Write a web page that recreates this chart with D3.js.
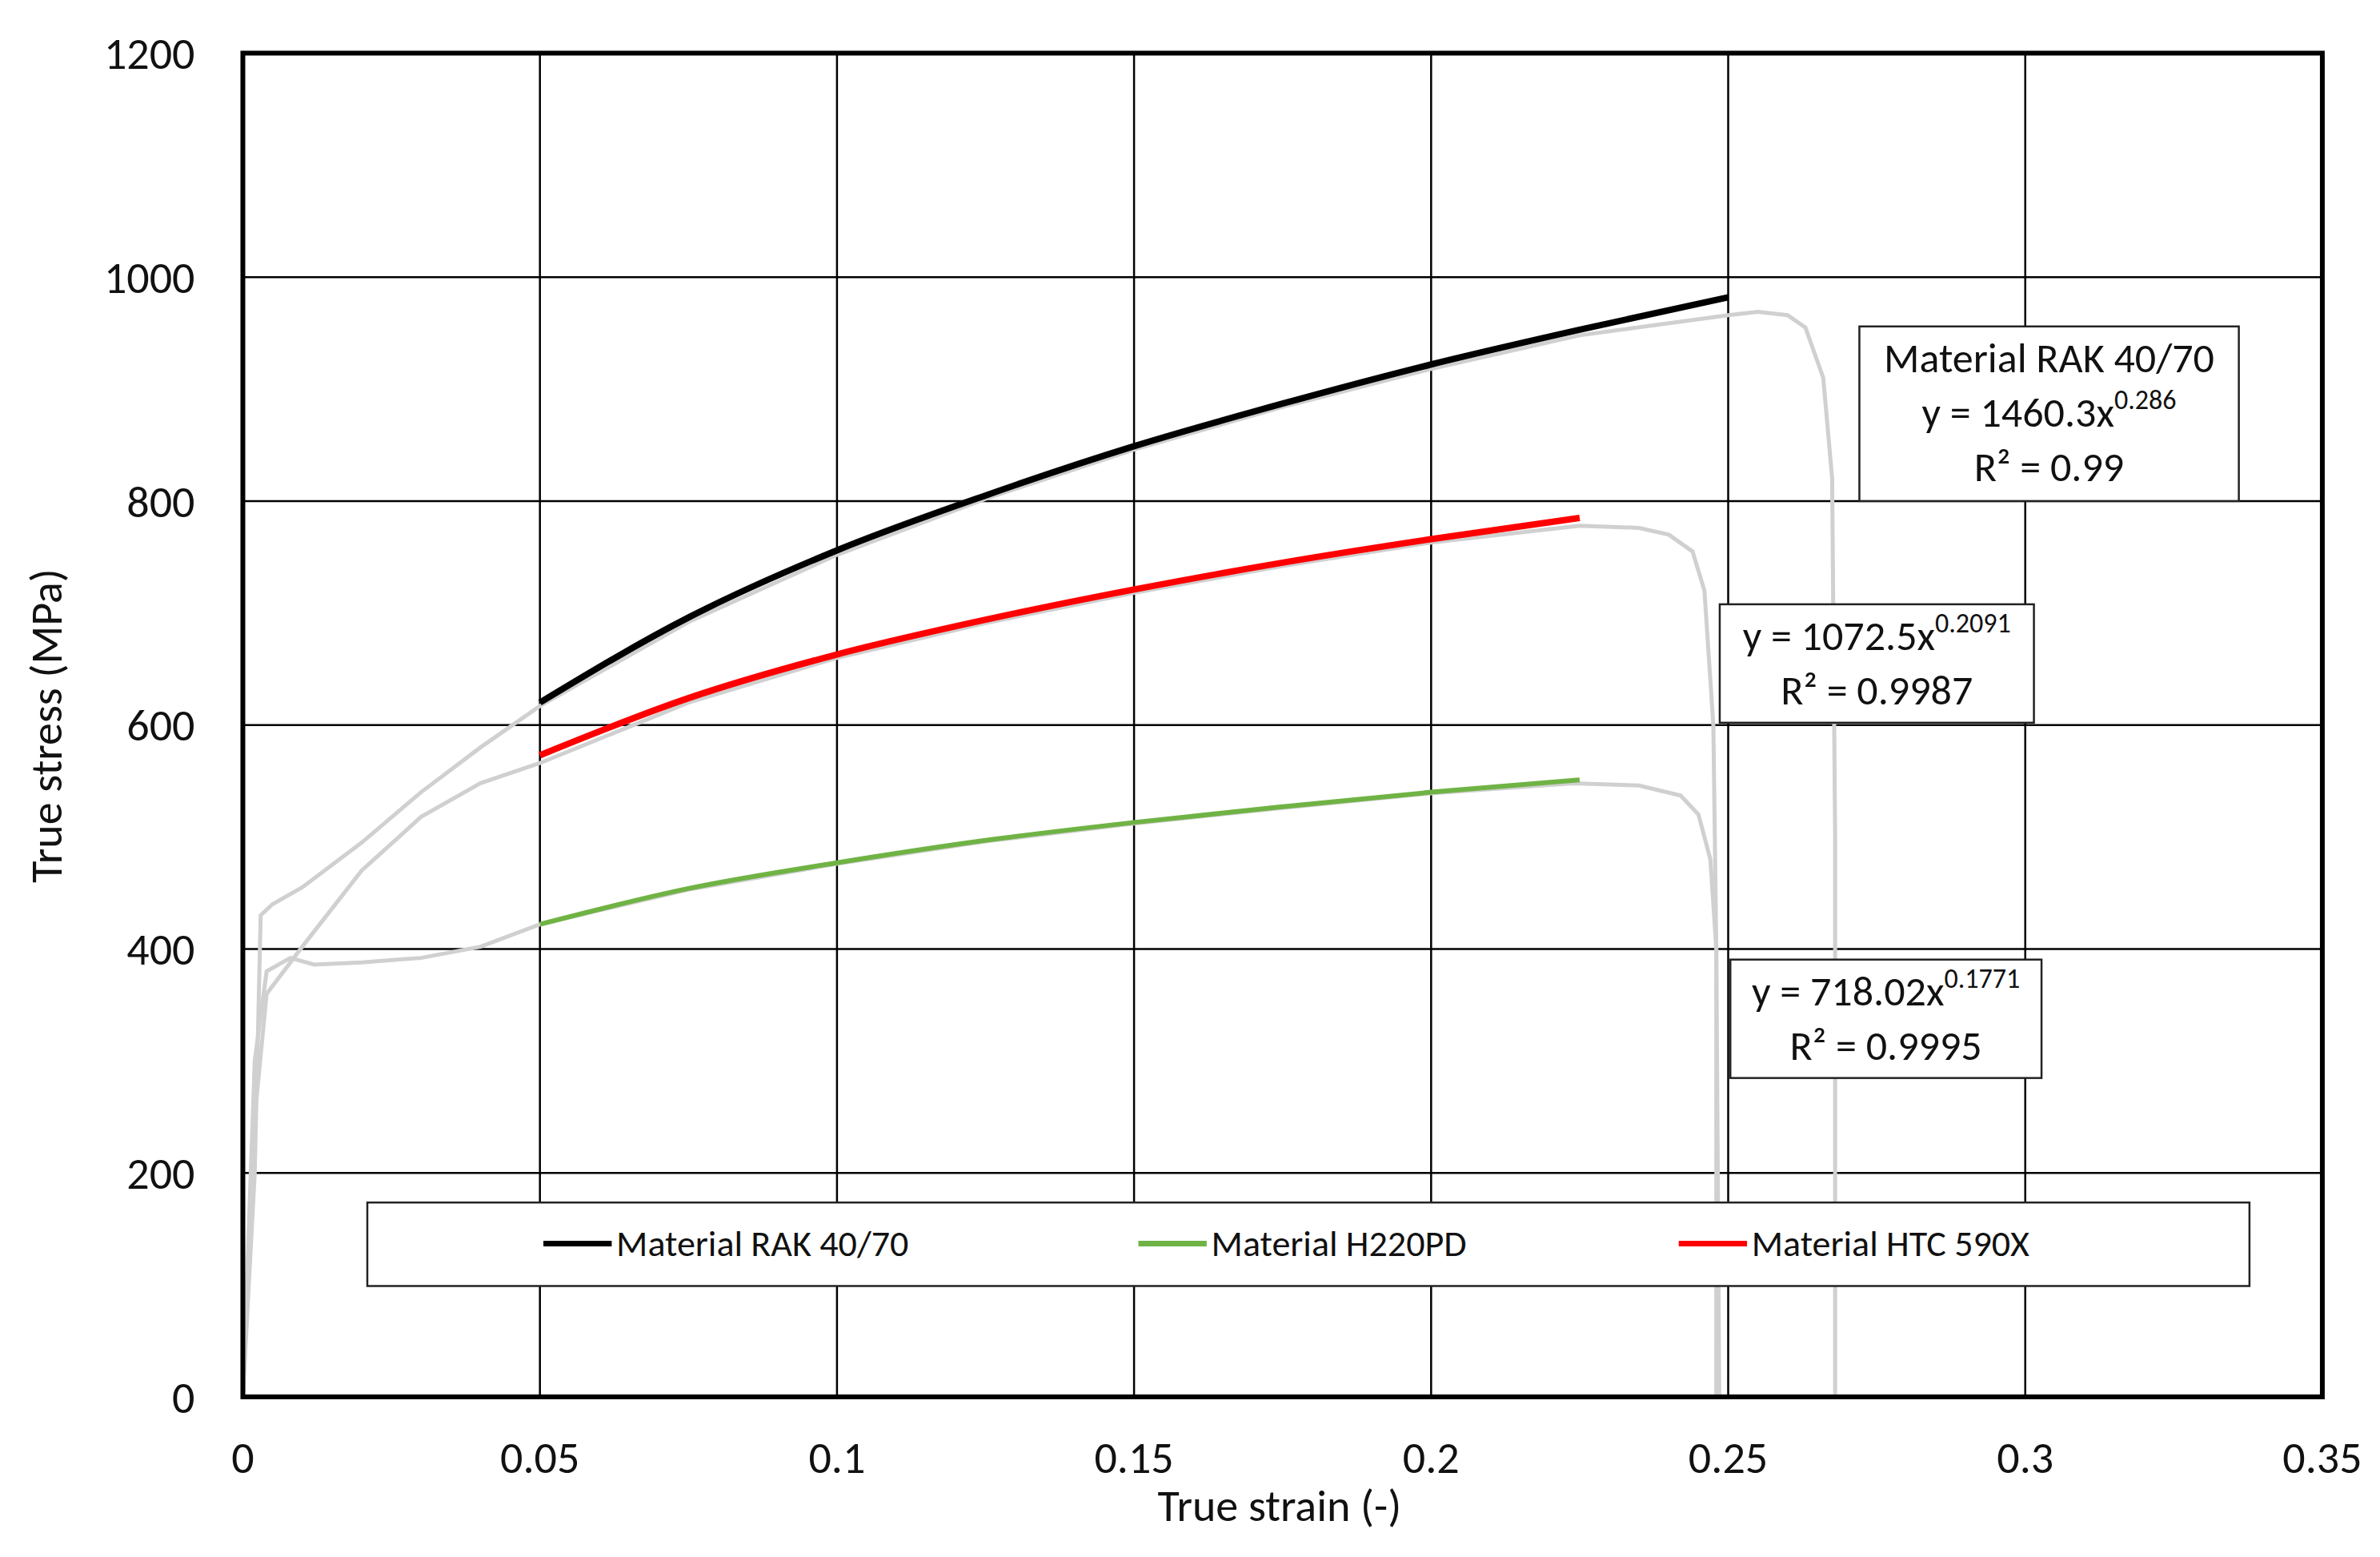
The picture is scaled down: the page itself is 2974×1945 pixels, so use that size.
<!DOCTYPE html>
<meta charset="utf-8">
<head>
<style>
  body, html { margin: 0; background: white; }
  text { font-family: Carlito, "Open Sans", sans-serif; fill: #111; }
</style>
<script src="https://d3js.org/d3.v7.min.js"></script>
</head>
<body>
<svg id="chart" width="2974" height="1945"></svg>
<script>
// fitted power-law curves, read at the strain points below
var fitStrain = [0.05, 0.075, 0.1, 0.125, 0.15, 0.175, 0.2, 0.225, 0.25];
var fitRAK = [620, 696, 756, 805, 849, 887, 922, 953, 982];
var fitHTC = [573, 624, 663, 694, 721, 745, 766, 785];
var fitH220 = [422, 454, 477, 497, 513, 527, 540, 551];

// raw test curves (grey)
var rawRAK = [[0,0],[0.002,200],[0.003,430],[0.005,440],[0.01,455],[0.02,495],[0.03,540],[0.04,580],[0.05,617],
  [0.075,692],[0.1,752],[0.125,802],[0.15,846],[0.175,884],[0.2,918],[0.225,948],[0.25,966],[0.255,969],
  [0.26,966],[0.263,955],[0.266,910],[0.2675,820],[0.268,500],[0.268,0]];
var rawHTC = [[0,0],[0.002,250],[0.004,360],[0.01,402],[0.02,470],[0.03,518],[0.04,548],[0.05,566],
  [0.075,620],[0.1,660],[0.125,691],[0.15,718],[0.175,742],[0.2,763],[0.225,778],[0.235,776],[0.24,770],
  [0.244,755],[0.246,720],[0.2475,600],[0.248,400],[0.248,0]];
var rawH220 = [[0,0],[0.002,300],[0.004,380],[0.008,392],[0.012,386],[0.02,388],[0.03,392],[0.04,402],[0.05,422],
  [0.075,453],[0.1,476],[0.125,496],[0.15,512],[0.175,526],[0.2,539],[0.224,548],[0.235,546],[0.242,537],
  [0.245,520],[0.247,480],[0.248,400],[0.2485,0]];

var xTicks = [0, 0.05, 0.1, 0.15, 0.2, 0.25, 0.3, 0.35];
var yTicks = [0, 200, 400, 600, 800, 1000, 1200];
var legendNames = ["Material RAK 40/70", "Material H220PD", "Material HTC 590X"];
var legendColors = ["#000000", "#70b345", "#ff0000"];

var S = 2974 / 1568; // helper: layout measured on a 1568-wide view
var svg = d3.select("#chart");
var pLeft = 160 * S, pRight = 1530 * S, pTop = 35 * S, pBottom = 920 * S;

var x = d3.scaleLinear().domain([0, 0.35]).range([pLeft, pRight]);
var y = d3.scaleLinear().domain([0, 1200]).range([pBottom, pTop]);

// grid
svg.append("g").selectAll("line").data(xTicks).join("line")
  .attr("x1", d => x(d)).attr("x2", d => x(d)).attr("y1", pTop).attr("y2", pBottom)
  .attr("stroke", "#000").attr("stroke-width", 2.5);
svg.append("g").selectAll("line").data(yTicks).join("line")
  .attr("x1", pLeft).attr("x2", pRight).attr("y1", d => y(d)).attr("y2", d => y(d))
  .attr("stroke", "#000").attr("stroke-width", 2.5);

// tick labels
svg.append("g").selectAll("text").data(yTicks).join("text")
  .attr("x", pLeft - 60).attr("y", d => y(d)).attr("dy", "0.35em")
  .attr("text-anchor", "end").attr("font-size", 56).text(d => d);
svg.append("g").selectAll("text").data(xTicks).join("text")
  .attr("x", d => x(d)).attr("y", pBottom + 95)
  .attr("text-anchor", "middle").attr("font-size", 56).text(d => d);

var line = d3.line().x(d => x(d[0])).y(d => y(d[1]));

// raw curves
[rawRAK, rawHTC, rawH220].forEach(function(r) {
  svg.append("path").datum(r).attr("d", line)
    .attr("fill", "none").attr("stroke", "#d0d0d0").attr("stroke-width", 5);
});

// fitted curves
function fitPts(vals) { return vals.map((v, i) => [fitStrain[i], v]); }
var smooth = d3.line().x(d => x(d[0])).y(d => y(d[1])).curve(d3.curveMonotoneX);
var fits = [
  [fitPts(fitRAK), legendColors[0], 8],
  [fitPts(fitH220), legendColors[1], 6],
  [fitPts(fitHTC), legendColors[2], 8]
];
fits.forEach(function(f) {
  svg.append("path").datum(f[0]).attr("d", smooth)
    .attr("fill", "none").attr("stroke", f[1]).attr("stroke-width", f[2]);
});

// outer frame
svg.append("rect").attr("x", pLeft).attr("y", pTop).attr("width", pRight - pLeft).attr("height", pBottom - pTop)
  .attr("fill", "none").attr("stroke", "#000").attr("stroke-width", 6);

// equation boxes
function eqBox(bx, by, bw, bh, lines) {
  svg.append("rect").attr("x", bx * S).attr("y", by * S).attr("width", bw * S).attr("height", bh * S)
    .attr("fill", "#fff").attr("stroke", "#222").attr("stroke-width", 2.5);
  lines.forEach(function(l, i) {
    var t = svg.append("text").attr("x", (bx + bw / 2) * S).attr("y", (by + 30 + i * 36) * S)
      .attr("text-anchor", "middle").attr("font-size", 52);
    t.append("tspan").text(l[0]);
    if (l[1]) t.append("tspan").attr("dy", -22).attr("font-size", 34).text(l[1]);
  });
}
eqBox(1225, 215, 250, 115, [["Material RAK 40/70"], ["y = 1460.3x", "0.286"], ["R² = 0.99"]]);
eqBox(1133, 398, 207, 78, [["y = 1072.5x", "0.2091"], ["R² = 0.9987"]]);
eqBox(1140, 632, 205, 78, [["y = 718.02x", "0.1771"], ["R² = 0.9995"]]);

// legend
svg.append("rect").attr("x", 242 * S).attr("y", 792 * S).attr("width", 1240 * S).attr("height", 55 * S)
  .attr("fill", "#fff").attr("stroke", "#222").attr("stroke-width", 2.5);
var legX = [358, 750, 1106];
legendNames.forEach(function(n, i) {
  svg.append("line").attr("x1", legX[i] * S).attr("x2", (legX[i] + 45) * S)
    .attr("y1", 819 * S).attr("y2", 819 * S).attr("stroke", legendColors[i]).attr("stroke-width", 7);
  svg.append("text").attr("x", (legX[i] + 48) * S).attr("y", 819 * S).attr("dy", "0.35em")
    .attr("font-size", 46).text(n);
});

// axis titles
svg.append("text").attr("x", 843 * S).attr("y", 1002 * S).attr("text-anchor", "middle")
  .attr("font-size", 56).text("True strain (-)");
svg.append("text").attr("transform", "translate(" + (30 * S) + "," + (478 * S) + ") rotate(-90)")
  .attr("text-anchor", "middle").attr("dy", "0.35em").attr("font-size", 56).text("True stress (MPa)");
</script>
</body>
